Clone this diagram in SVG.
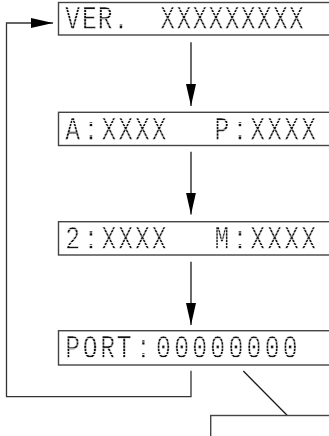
<svg xmlns="http://www.w3.org/2000/svg" width="329" height="436" viewBox="0 0 329 436">
<style>
.box{fill:#fff;stroke:#444;stroke-width:1.4}
.lcd{font-family:"Liberation Mono","DejaVu Sans Mono",monospace;font-size:33px;fill:#111;text-anchor:middle;stroke:#fff;stroke-width:0.5}
.con{fill:none;stroke:#1a1a1a;stroke-width:1.3}
.ret{fill:none;stroke:#333;stroke-width:1.3}
</style>
<defs>
<marker id="ah" markerUnits="userSpaceOnUse" markerWidth="22" markerHeight="10" refX="22" refY="5" orient="auto" viewBox="0 0 22 10">
<path d="M0,0 L22,5 L0,10 z" fill="#000"/>
</marker>
<pattern id="dots1" patternUnits="userSpaceOnUse" x="0" y="6.6" width="329" height="3.15"><rect width="329" height="2.4" fill="#fff"/></pattern>
<pattern id="dots2" patternUnits="userSpaceOnUse" x="0" y="117.6" width="329" height="3.15"><rect width="329" height="2.4" fill="#fff"/></pattern>
<pattern id="dots3" patternUnits="userSpaceOnUse" x="0" y="227" width="329" height="3.15"><rect width="329" height="2.4" fill="#fff"/></pattern>
<pattern id="dots4" patternUnits="userSpaceOnUse" x="0" y="336" width="329" height="3.15"><rect width="329" height="2.4" fill="#fff"/></pattern>
<mask id="m1" maskUnits="userSpaceOnUse" x="0" y="0" width="329" height="436"><rect width="329" height="436" fill="url(#dots1)"/></mask>
<mask id="m2" maskUnits="userSpaceOnUse" x="0" y="0" width="329" height="436"><rect width="329" height="436" fill="url(#dots2)"/></mask>
<mask id="m3" maskUnits="userSpaceOnUse" x="0" y="0" width="329" height="436"><rect width="329" height="436" fill="url(#dots3)"/></mask>
<mask id="m4" maskUnits="userSpaceOnUse" x="0" y="0" width="329" height="436"><rect width="329" height="436" fill="url(#dots4)"/></mask>
</defs>
<rect width="329" height="436" fill="#fff"/>
<g id="connectors">
<line class="con" x1="191" y1="42.3" x2="191" y2="106" marker-end="url(#ah)"/>
<line class="con" x1="191" y1="151.7" x2="191" y2="214.5" marker-end="url(#ah)"/>
<line class="con" x1="191" y1="261.7" x2="191" y2="325" marker-end="url(#ah)"/>
<polyline class="ret" points="191,370.7 191,396.7 6.5,396.7 6.5,23 53,23" marker-end="url(#ah)"/>
<line class="con" x1="243.3" y1="371" x2="287.3" y2="415.5"/>
</g>
<g id="node-ver">
<rect class="box" x="58.5" y="2.5" width="290" height="32.5"/>
<g mask="url(#m1)">
<text class="lcd" xml:space="preserve" transform="scale(0.75 1)" y="29.3" x="96.9 119.1 140.4 161.3 182.8 204.3 223.6 245.1 266.5 288 309.5 330.9 352.4 373.9 395.3">VER.  XXXXXXXXX</text>
</g>
</g>
<g id="node-ap">
<rect class="box" x="58.5" y="112.3" width="290" height="33.2"/>
<g mask="url(#m2)">
<text class="lcd" xml:space="preserve" transform="scale(0.75 1)" y="140" x="96.9 121.3 145.3 167.6 189.9 212.1 234.4 256.7 278.9 296 320 343.6 366.3 388.9 411.6">A:XXXX   P:XXXX</text>
</g>
</g>
<g id="node-2m">
<rect class="box" x="58.5" y="221.7" width="290" height="33.3"/>
<g mask="url(#m3)">
<text class="lcd" xml:space="preserve" transform="scale(0.75 1)" y="249.4" x="96.9 121.3 145.3 167.6 189.9 212.1 234.4 256.7 278.9 296 320 343.6 366.3 388.9 411.6">2:XXXX   M:XXXX</text>
</g>
</g>
<g id="node-port">
<rect class="box" x="58.5" y="330.7" width="290" height="34.3"/>
<g mask="url(#m4)">
<text class="lcd" xml:space="preserve" transform="scale(0.75 1)" y="358.4" x="96.9 120.4 143.6 165.7 191.1 218 242.1 266.3 290.4 314.5 338.7 362.8 386.9">PORT:00000000</text>
</g>
</g>
<g id="node-detail">
<rect class="box" x="210.7" y="415.5" width="140" height="40"/>
</g>
</svg>
